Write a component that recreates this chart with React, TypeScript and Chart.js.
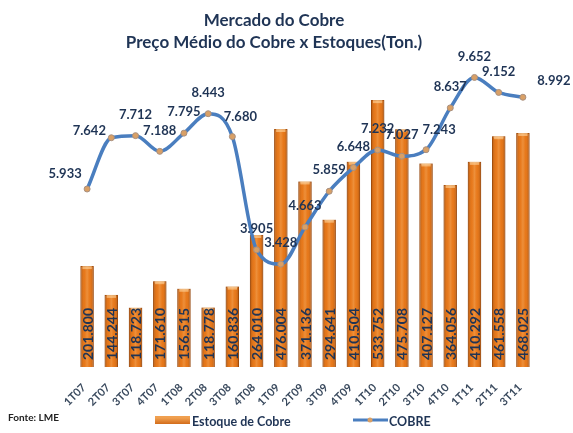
import { useEffect, useRef } from "react";
import { Chart, registerables } from "chart.js";

Chart.register(...registerables);

const titleLines = ["Mercado do Cobre", "Preço Médio do Cobre x Estoques(Ton.)"];
const categories = ["1T07", "2T07", "3T07", "4T07", "1T08", "2T08", "3T08", "4T08", "1T09", "2T09", "3T09", "4T09", "1T10", "2T10", "3T10", "4T10", "1T11", "2T11", "3T11"];
const estoque = [201800, 144244, 118723, 171610, 156515, 118778, 160836, 264010, 476004, 371136, 294641, 410504, 533752, 475708, 407127, 364056, 410292, 461558, 468025];
const cobre = [5933, 7642, 7712, 7188, 7795, 8443, 7680, 3905, 3428, 4663, 5859, 6648, 7232, 7027, 7243, 8637, 9652, 9152, 8992];
const seriesNames = ["Estoque de Cobre", "COBRE"];
const sourceText = "Fonte: LME";

const fmt = (v: number) => {
  const s = Math.round(v).toString();
  return s.replace(/\B(?=(\d{3})+(?!\d))/g, ".");
};

const NAVY = "#1F3455";
const ORANGE = "#E36C0A";
const BLUE = "#4A7EBF";

// label offsets for the line labels (dx, dy relative to point)
const lineLabelShift: Record<number, [number, number]> = {
  0: [-22, -15],
  1: [-22, -7],
  6: [8, -20],
  14: [13, -20],
  18: [31, -16],
};

const decorPlugin = {
  id: "decor",
  afterDatasetDraw(chart: any, args: any) {
    const ctx = chart.ctx;
    if (args.index === 0) {
      const meta = chart.getDatasetMeta(0);
      meta.data.forEach((bar: any, i: number) => {
        const { x, y, base, width } = bar.getProps(["x", "y", "base", "width"], true);
        const l = x - width / 2;
        const g = ctx.createLinearGradient(l, 0, l + width, 0);
        g.addColorStop(0, "rgba(110,45,0,0.45)");
        g.addColorStop(0.3, "rgba(255,190,120,0.15)");
        g.addColorStop(0.5, "rgba(255,210,150,0.35)");
        g.addColorStop(0.7, "rgba(255,190,120,0.15)");
        g.addColorStop(1, "rgba(110,45,0,0.45)");
        ctx.save();
        ctx.fillStyle = g;
        ctx.fillRect(l, y, width, base - y);
        ctx.fillStyle = "rgba(255,215,160,0.6)";
        ctx.fillRect(l + 2, y, width - 4, 3);
        ctx.restore();
        // value label inside bar, rotated
        ctx.save();
        ctx.translate(x, base - 7);
        ctx.rotate(-Math.PI / 2);
        ctx.font = "bold 14px Lato";
        ctx.fillStyle = NAVY;
        ctx.textAlign = "left";
        ctx.textBaseline = "middle";
        ctx.fillText(fmt(estoque[i]), 0, 1);
        ctx.restore();
      });
    }
  },
  afterDraw(chart: any) {
    const ctx = chart.ctx;
    // line labels
    const meta = chart.getDatasetMeta(1);
    ctx.save();
    ctx.font = "bold 13px Lato";
    ctx.fillStyle = NAVY;
    ctx.textAlign = "center";
    ctx.textBaseline = "middle";
    meta.data.forEach((pt: any, i: number) => {
      const sh = lineLabelShift[i] || [0, -21];
      ctx.fillText(fmt(cobre[i]), pt.x + sh[0], pt.y + sh[1]);
    });
    ctx.restore();

    // title
    ctx.save();
    ctx.font = "bold 17px Lato";
    ctx.fillStyle = NAVY;
    ctx.textAlign = "center";
    ctx.textBaseline = "middle";
    ctx.fillText(titleLines[0], 274, 21);
    ctx.fillText(titleLines[1], 274, 43);
    ctx.restore();

    // source
    ctx.save();
    ctx.font = "bold 10px Lato";
    ctx.fillStyle = "#222222";
    ctx.textAlign = "left";
    ctx.textBaseline = "middle";
    ctx.fillText(sourceText, 8, 418);
    ctx.restore();

    // legend
    ctx.save();
    const ly = 422;
    const g = ctx.createLinearGradient(0, ly - 4, 0, ly + 4);
    g.addColorStop(0, "#F0A050");
    g.addColorStop(1, "#C85A08");
    ctx.fillStyle = g;
    ctx.fillRect(155, ly - 6, 35, 8);
    ctx.font = "bold 12.5px Lato";
    ctx.fillStyle = NAVY;
    ctx.textAlign = "left";
    ctx.textBaseline = "middle";
    ctx.fillText(seriesNames[0], 192, ly);
    ctx.strokeStyle = BLUE;
    ctx.lineWidth = 3;
    ctx.beginPath();
    ctx.moveTo(353, ly - 2);
    ctx.lineTo(388, ly - 2);
    ctx.stroke();
    ctx.fillStyle = "#D9A066";
    ctx.beginPath();
    ctx.arc(370, ly - 2, 2.5, 0, Math.PI * 2);
    ctx.fill();
    ctx.fillStyle = NAVY;
    ctx.fillText(seriesNames[1], 389, ly);
    ctx.restore();
  },
};

export default function App() {
  const ref = useRef<HTMLCanvasElement>(null);
  useEffect(() => {
    const chart = new Chart(ref.current!, {
      type: "bar",
      data: {
        labels: categories,
        datasets: [
          {
            type: "bar",
            label: seriesNames[0],
            data: estoque,
            backgroundColor: ORANGE,
            borderColor: "#B5540A",
            borderWidth: 1,
            categoryPercentage: 1,
            barPercentage: 0.55,
            yAxisID: "y",
            order: 2,
          },
          {
            type: "line",
            label: seriesNames[1],
            data: cobre,
            borderColor: BLUE,
            borderWidth: 3.5,
            cubicInterpolationMode: "monotone",
            tension: 0.4,
            pointRadius: 3,
            pointBackgroundColor: "#D9A066",
            pointBorderColor: "#A89080",
            pointBorderWidth: 1,
            yAxisID: "y1",
            order: 1,
          },
        ],
      },
      options: {
        animation: false,
        responsive: false,
        devicePixelRatio: 1,
        layout: { padding: { top: 67, left: 75, right: 38, bottom: 16 } },
        plugins: { legend: { display: false }, title: { display: false }, tooltip: { enabled: false } },
        scales: {
          x: {
            grid: { display: false },
            border: { display: false },
            ticks: {
              minRotation: 45,
              maxRotation: 45,
              padding: 6,
              labelOffset: -3,
              color: "#3A4A5E",
              font: { family: "Lato", size: 11, weight: "bold" },
            },
            afterFit: (s: any) => {
              s.height = 50;
              s.paddingLeft = 0;
              s.paddingRight = 0;
            },
          },
          y: { display: false, min: 0, max: 600000 },
          y1: { display: false, min: 0, max: 10000, position: "right" },
        },
      },
      plugins: [decorPlugin],
    } as any);
    return () => chart.destroy();
  }, []);
  return (
    <div style={{ position: "fixed", left: 0, top: 0, width: 573, height: 433, background: "#fff" }}>
      <canvas ref={ref} width={573} height={433} style={{ width: 573, height: 433, display: "block" }} />
    </div>
  );
}
